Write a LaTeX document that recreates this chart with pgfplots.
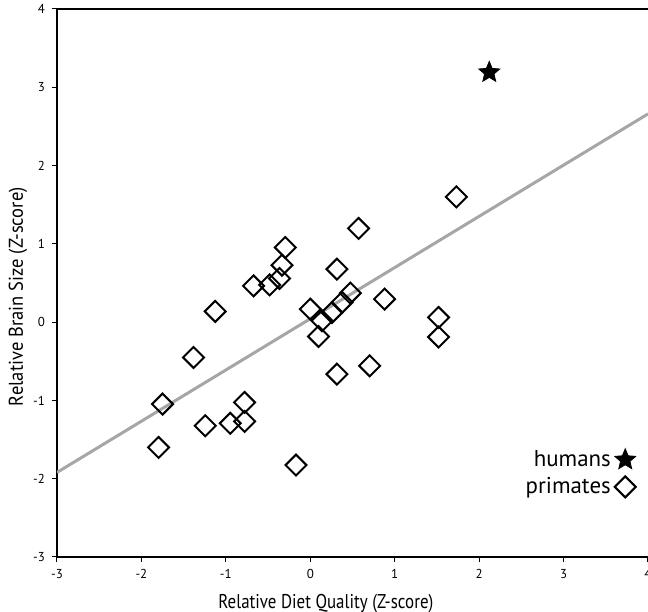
\documentclass[border=0pt]{standalone}
\usepackage{fontspec}
\setmainfont{PT Sans}
\usepackage{pgfplots}
\pgfplotsset{compat=1.18}

% filled five-pointed star
\pgfdeclareplotmark{fstar}{%
  \pgfpathmoveto{\pgfpointpolar{90}{\pgfplotmarksize}}%
  \pgfpathlineto{\pgfpointpolar{126}{0.45\pgfplotmarksize}}%
  \pgfpathlineto{\pgfpointpolar{162}{\pgfplotmarksize}}%
  \pgfpathlineto{\pgfpointpolar{198}{0.45\pgfplotmarksize}}%
  \pgfpathlineto{\pgfpointpolar{234}{\pgfplotmarksize}}%
  \pgfpathlineto{\pgfpointpolar{270}{0.45\pgfplotmarksize}}%
  \pgfpathlineto{\pgfpointpolar{306}{\pgfplotmarksize}}%
  \pgfpathlineto{\pgfpointpolar{342}{0.45\pgfplotmarksize}}%
  \pgfpathlineto{\pgfpointpolar{18}{\pgfplotmarksize}}%
  \pgfpathlineto{\pgfpointpolar{54}{0.45\pgfplotmarksize}}%
  \pgfpathclose
  \pgfusepathqfillstroke
}

\begin{document}
\begin{tikzpicture}
\begin{axis}[
    scale only axis,
    width=295.5bp, height=274bp,
    xmin=-3, xmax=4, ymin=-3, ymax=4,
    xtick={-3,...,4}, ytick={-3,...,4},
    axis lines*=left,
    axis line style={-, line width=0.75bp},
    tick align=outside,
    major tick length=2.5bp,
    tick style={black, line width=0.5bp},
    /pgf/number format/assume math mode=true,
    ticklabel style={font=\fontsize{6.5}{7}\selectfont},
    xlabel={\scalebox{0.85}[1]{Relative Diet Quality (Z-score)}},
    ylabel={\scalebox{0.93}[1]{Relative Brain Size (Z-score)}},
    every axis x label/.style={at={(axis description cs:0.455,-0.085)}, anchor=center,
        font=\fontsize{10}{12}\selectfont},
    every axis y label/.style={at={(axis description cs:-0.066,0.475)}, anchor=center, rotate=90,
        font=\fontsize{10}{12}\selectfont},
    legend plot pos=right,
    legend cell align=right,
    legend style={draw=none, fill=none, at={(rel axis cs:0.99,0.21)}, anchor=north east,
        font=\fontsize{11.5}{14}\selectfont, row sep=0bp},
]
% regression line
\addplot[gray!70, line width=1.5bp, forget plot] coordinates {(-3,-1.92) (4,2.66)};
% humans
\addplot[only marks, mark=fstar, mark size=5.5bp, black] coordinates {(2.12,3.19)};
\addlegendentry{humans}
% primates
\addplot[only marks, mark=square, mark size=3.7bp,
    mark options={rotate=45, line width=1bp, fill=none}, black] coordinates {
(0.572,1.197) (-0.296,0.954) (-0.335,0.728) (-0.364,0.558) (-0.482,0.476)
(-0.672,0.463) (0.316,0.677) (-1.126,0.137) (0.000,0.166) (0.139,0.017)
(0.257,0.124) (0.376,0.252) (0.474,0.371) (0.098,-0.183) (0.880,0.294)
(-1.383,-0.451) (0.316,-0.664) (0.703,-0.558) (-1.750,-1.047) (-0.778,-1.026)
(-1.244,-1.324) (-0.948,-1.293) (-0.778,-1.268) (-1.797,-1.600) (-0.169,-1.826)
(1.73,1.60) (1.52,0.06) (1.52,-0.19)
};
\addlegendentry{primates}
\draw[line width=0.75bp] (rel axis cs:0,1) -- (rel axis cs:1,1);
\coordinate (bl) at (rel axis cs:0,0);
\coordinate (tr) at (rel axis cs:1,1);
\end{axis}
\pgfresetboundingbox
\path[use as bounding box] ([shift={(-28.5bp,-27.5bp)}]bl) rectangle ([shift={(0bp,4.5bp)}]tr);
\end{tikzpicture}
\end{document}
